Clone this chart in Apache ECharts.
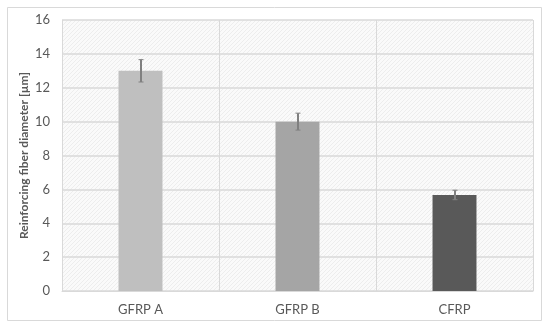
<!DOCTYPE html>
<html><head><meta charset="utf-8">
<script src="https://cdn.jsdelivr.net/npm/echarts@6/dist/echarts.min.js"></script>
<style>html,body{margin:0;padding:0;background:#fff}#c{width:550px;height:330px}</style>
</head><body><div id="c"></div>
<script>
var categories = ['GFRP A', 'GFRP B', 'CFRP'];
var values = [13.0, 10.0, 5.67];
var errors = [0.66, 0.5, 0.28];
var barColors = ['#bfbfbf', '#a5a5a5', '#595959'];
var yTicks = [0, 2, 4, 6, 8, 10, 12, 14, 16];

// hatch pattern
var pc = document.createElement('canvas');
pc.width = 4; pc.height = 4;
var ctx = pc.getContext('2d');
ctx.fillStyle = '#fafafa'; ctx.fillRect(0, 0, 4, 4);
ctx.fillStyle = '#ededed';
for (var i = 0; i < 4; i++) { ctx.fillRect(i, 3 - i, 1, 1); }

var chart = echarts.init(document.getElementById('c'), null, {renderer: 'canvas'});
chart.setOption({
  animation: false,
  backgroundColor: '#fff',
  graphic: [{type: 'rect', shape: {x: 7.5, y: 7.5, width: 534, height: 313}, style: {fill: 'none', stroke: '#d9d9d9', lineWidth: 1}, z: -1}],
  grid: {left: 62, right: 17, top: 20, bottom: 39, show: true, backgroundColor: {image: pc, repeat: 'repeat'}, borderWidth: 0},
  xAxis: {
    type: 'category', data: categories,
    axisLine: {lineStyle: {color: '#d9d9d9', width: 1}},
    axisTick: {show: false},
    axisLabel: {color: '#595959', fontFamily: 'Lato', fontSize: 13, margin: 12},
    splitLine: {show: true, lineStyle: {color: '#d9d9d9', width: 1}}
  },
  yAxis: {
    type: 'value', min: 0, max: 16, interval: 2,
    name: 'Reinforcing fiber diameter [µm]', nameLocation: 'middle', nameGap: 32,
    nameMoveOverlap: false,
    nameTextStyle: {color: '#595959', fontFamily: 'Lato', fontSize: 12, fontWeight: 'bold'},
    axisLine: {show: false}, axisTick: {show: false},
    axisLabel: {color: '#595959', fontFamily: 'Lato', fontSize: 13, margin: 12,
      formatter: function (v) { return yTicks.indexOf(v) >= 0 ? String(v) : ''; }},
    splitLine: {lineStyle: {color: '#d9d9d9', width: 1.5}}
  },
  series: [{
    type: 'bar', barWidth: '28%',
    data: values.map(function (v, i) { return {value: v, itemStyle: {color: barColors[i]}}; }),
    z: 2
  }, {
    type: 'custom', z: 3,
    data: values.map(function (v, i) { return [i, v - errors[i], v + errors[i]]; }),
    renderItem: function (params, api) {
      var lo = api.coord([api.value(0), api.value(1)]);
      var hi = api.coord([api.value(0), api.value(2)]);
      var x = Math.round(lo[0]);
      var st = {stroke: '#808080', lineWidth: 2};
      return {type: 'group', children: [
        {type: 'line', shape: {x1: x, y1: hi[1], x2: x, y2: lo[1]}, style: st},
        {type: 'line', shape: {x1: x - 2.5, y1: hi[1], x2: x + 2.5, y2: hi[1]}, style: {stroke: '#808080', lineWidth: 1}},
        {type: 'line', shape: {x1: x - 2.5, y1: lo[1], x2: x + 2.5, y2: lo[1]}, style: {stroke: '#808080', lineWidth: 1}}
      ]};
    }
  }]
});
</script></body></html>
